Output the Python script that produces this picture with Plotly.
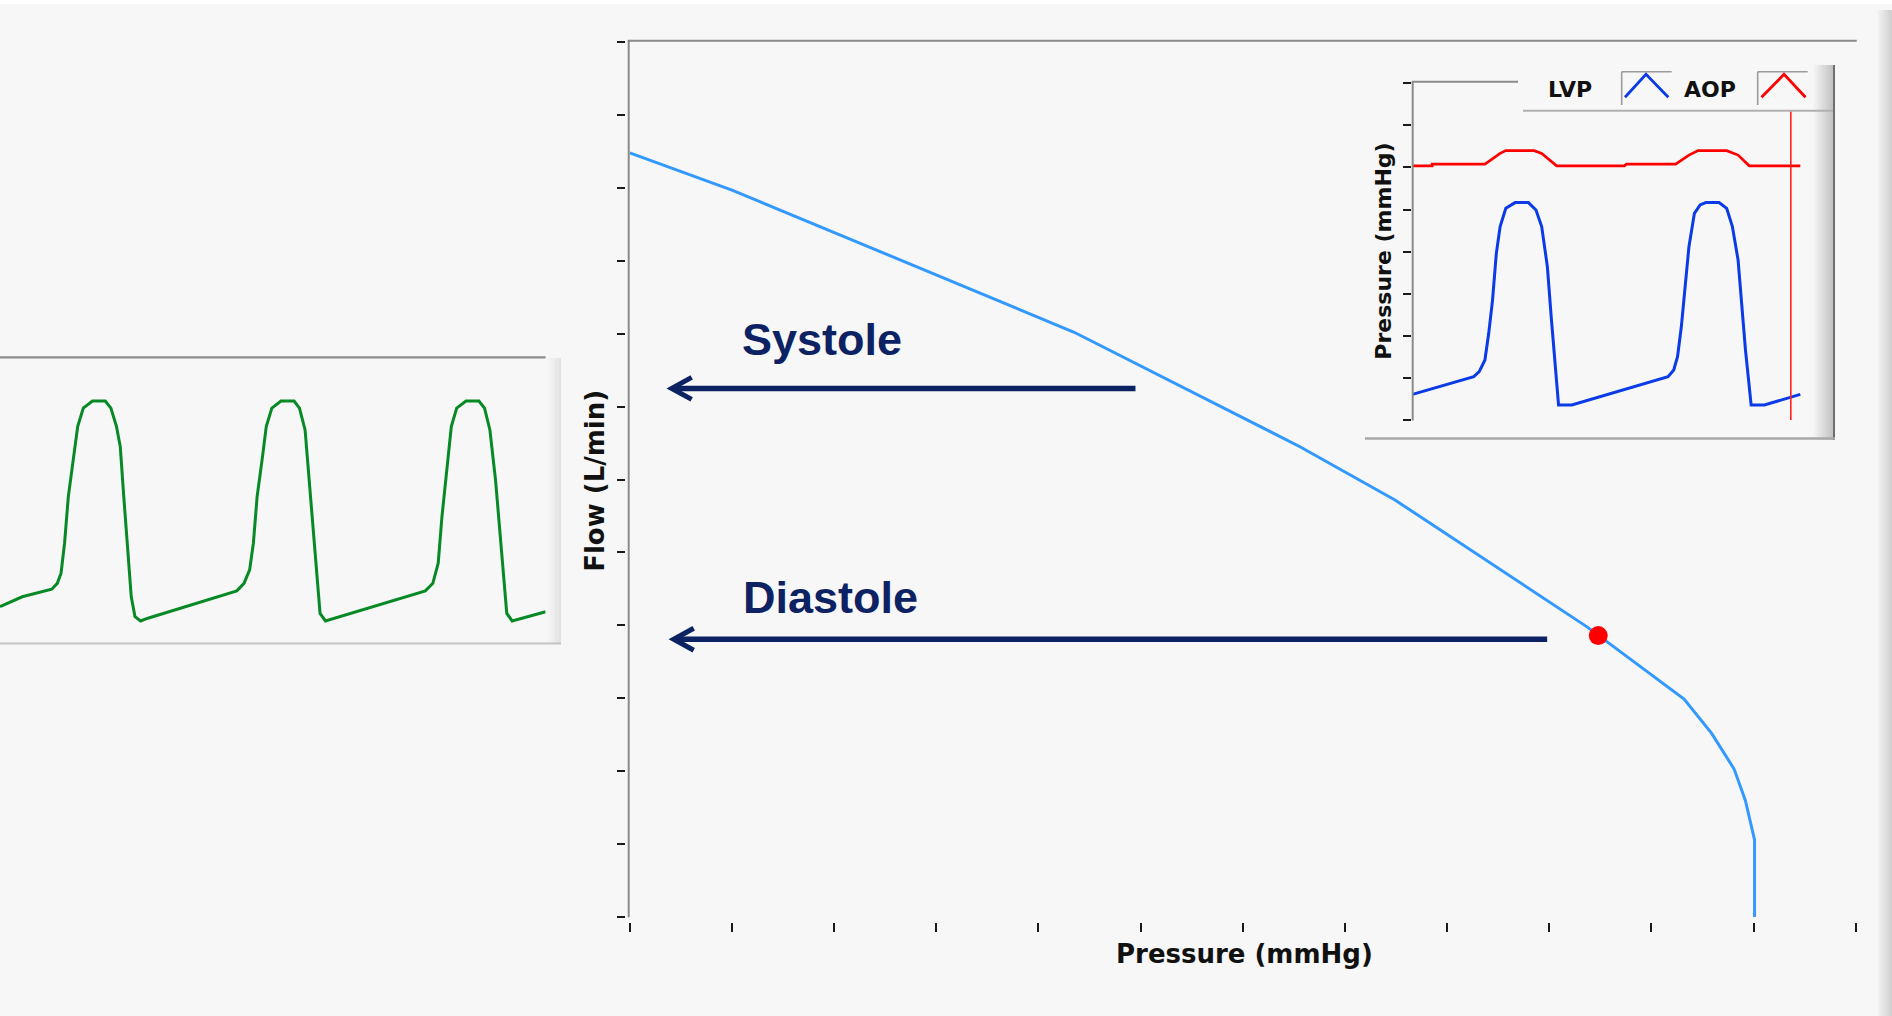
import plotly.graph_objects as go

W, H = 1892, 1016

# ---------------- data ----------------
# Main pump H-Q curve: pressure (mmHg) vs flow (L/min)
hq_pressure = [0.0, 10.0, 43.5, 65.6, 74.9, 93.7, 103.2, 105.9, 108.1, 109.2, 110.1, 110.1]
hq_flow = [10.48, 9.97, 8.02, 6.45, 5.72, 3.98, 2.99, 2.52, 2.03, 1.60, 1.06, 0.0]
op_point_pressure = [94.8]
op_point_flow = [3.86]

# Arrows (flow level, start pressure, end pressure)
systole_flow, systole_from, systole_to = 7.25, 49.5, 4.1
diastole_flow, diastole_from, diastole_to = 3.81, 89.8, 4.3

# Inset: LVP and AOP pressure waveforms (time s, mmHg)
lvp_t = [0.000, 0.258, 0.281, 0.305, 0.321, 0.337, 0.353, 0.369, 0.393, 0.432, 0.488, 0.520, 0.544,
         0.568, 0.584, 0.600, 0.615, 0.671, 1.076, 1.100, 1.116, 1.132, 1.148, 1.164, 1.187, 1.211,
         1.235, 1.291, 1.323, 1.347, 1.371, 1.386, 1.402, 1.426, 1.482, 1.633]
lvp_p = [12.2, 20.6, 23.0, 28.5, 41.2, 57.0, 79.2, 91.9, 100.6, 103.3, 103.3, 99.8, 91.9,
         72.8, 49.1, 25.3, 7.1, 7.1, 20.6, 23.8, 30.1, 44.3, 61.8, 82.3, 98.2, 102.2,
         103.3, 103.3, 100.6, 91.9, 76.0, 57.0, 33.3, 7.1, 7.1, 12.2]
aop_t = [0.000, 0.083, 0.083, 0.305, 0.369, 0.393, 0.512, 0.544, 0.607, 0.893, 0.901, 1.108,
         1.164, 1.203, 1.323, 1.371, 1.418, 1.633]
aop_p = [120.8, 120.8, 121.6, 121.6, 126.7, 128.0, 128.0, 126.7, 120.8, 120.8, 121.6, 121.6,
         125.9, 128.0, 128.0, 125.9, 120.8, 120.8]
cursor_t = 1.593
cursor_top = 147.0
inset_ticks = [0, 20, 40, 60, 80, 100, 120, 140, 160]

# Left panel: green pressure waveform (time s, mmHg)
green_t = [0.000, 0.095, 0.221, 0.245, 0.261, 0.276, 0.292, 0.316, 0.332, 0.356, 0.395, 0.450,
           0.474, 0.498, 0.514, 0.529, 0.545, 0.561, 0.577, 0.601, 0.632, 1.012, 1.043, 1.067,
           1.083, 1.099, 1.122, 1.138, 1.162, 1.201, 1.257, 1.280, 1.304, 1.328, 1.352, 1.368,
           1.391, 1.423, 1.818, 1.850, 1.873, 1.889, 1.913, 1.929, 1.952, 1.992, 2.047, 2.071,
           2.094, 2.118, 2.142, 2.166, 2.189, 2.213, 2.332]
green_p = [17.3, 22.0, 25.6, 28.4, 33.2, 47.5, 69.7, 88.7, 103.0, 111.8, 115.2, 115.2,
           111.8, 103.0, 93.5, 69.7, 45.9, 22.0, 12.5, 10.5, 11.8, 24.8, 28.4, 34.8,
           47.5, 69.7, 88.7, 103.0, 111.8, 115.2, 115.2, 111.8, 101.4, 69.7, 38.0, 14.1,
           10.5, 11.6, 24.8, 28.4, 38.0, 60.1, 85.6, 103.0, 111.8, 115.2, 115.2, 111.8,
           101.4, 77.6, 45.9, 14.1, 10.5, 11.3, 14.9]

main_xticks = list(range(0, 121, 10))
main_yticks = list(range(0, 13, 1))

# ---------------- helpers (pixel -> paper) ----------------
def px(x):
    return x / W

def py(y):
    return (H - y) / H

BG = "#f7f7f7"
NAVY = "#0d2263"
TICK = "#1a1a1a"
FRAME = "#8a8a8a"

fig = go.Figure()

# main curve
fig.add_trace(go.Scatter(x=hq_pressure, y=hq_flow, mode="lines",
                         line=dict(color="#3399ff", width=3), xaxis="x", yaxis="y",
                         hoverinfo="skip", showlegend=False))
fig.add_trace(go.Scatter(x=op_point_pressure, y=op_point_flow, mode="markers",
                         marker=dict(color="#ff0000", size=19), xaxis="x", yaxis="y",
                         hoverinfo="skip", showlegend=False))

# inset
fig.add_trace(go.Scatter(x=aop_t, y=aop_p, mode="lines", line=dict(color="#ff0000", width=2.7),
                         xaxis="x2", yaxis="y2", hoverinfo="skip", showlegend=False))
fig.add_trace(go.Scatter(x=lvp_t, y=lvp_p, mode="lines", line=dict(color="#0a3be6", width=3),
                         xaxis="x2", yaxis="y2", hoverinfo="skip", showlegend=False))
fig.add_trace(go.Scatter(x=[cursor_t, cursor_t], y=[0, cursor_top], mode="lines",
                         line=dict(color="#ff2020", width=1.6), xaxis="x2", yaxis="y2",
                         hoverinfo="skip", showlegend=False))

# green panel
fig.add_trace(go.Scatter(x=green_t, y=green_p, mode="lines", line=dict(color="#078a26", width=3),
                         xaxis="x3", yaxis="y3", hoverinfo="skip", showlegend=False))

shapes = []

def line(x0, y0, x1, y1, color, width):
    shapes.append(dict(type="line", xref="paper", yref="paper", x0=px(x0), y0=py(y0),
                       x1=px(x1), y1=py(y1), line=dict(color=color, width=width), layer="above"))

def rect(x0, y0, x1, y1, color):
    shapes.append(dict(type="rect", xref="paper", yref="paper", x0=px(x0), y0=py(y0),
                       x1=px(x1), y1=py(y1), fillcolor=color, line=dict(width=0), layer="below"))

def gradient(x0, x1, y0, y1, c0, c1, steps):
    for i in range(steps):
        t = i / max(steps - 1, 1)
        v = int(round(c0 + (c1 - c0) * t))
        col = "rgb(%d,%d,%d)" % (v, v, v)
        xa = x0 + (x1 - x0) * i / steps
        xb = x0 + (x1 - x0) * (i + 1) / steps
        rect(xa, y0, xb, y1, col)

# page chrome
rect(0, 0, W, 4, "#ffffff")
gradient(1878, W, 10, H, 240, 208, 7)

# main frame
line(628.7, 40.7, 628.7, 917.3, FRAME, 2)
line(627.7, 40.7, 1856.7, 40.7, FRAME, 2)

# green panel frame
gradient(546, 561, 358, 644, 246, 226, 6)
line(0, 357.3, 545.6, 357.3, "#8e8e8e", 2.2)
line(0, 643.5, 561, 643.5, "#c4c4c4", 2.2)

# inset panel frame
gradient(1813, 1833, 65, 440, 244, 196, 10)
line(1834, 65, 1834, 440, "#6e6e6e", 2)
line(1365, 438.5, 1835, 438.5, "#a8a8a8", 2.4)
line(1412.7, 81.7, 1412.7, 420.5, FRAME, 2)
line(1411.7, 81.7, 1518, 81.7, FRAME, 2)
line(1523, 110.7, 1833, 110.7, "#b0b0b0", 2)

# legend icon boxes
for bx in (1621.7, 1757.7):
    line(bx, 71.7, bx, 105, "#9a9a9a", 1.6)
    line(bx, 71.7, bx + 50, 71.7, "#9a9a9a", 1.6)

def chevron(x0, xm, x1, ytop, ybot, color):
    shapes.append(dict(type="path", xref="paper", yref="paper",
                       path="M %f,%f L %f,%f L %f,%f" % (px(x0), py(ybot), px(xm), py(ytop), px(x1), py(ybot)),
                       line=dict(color=color, width=2.8), layer="above"))

chevron(1625, 1646, 1668.3, 74.3, 97.3, "#0a3be6")
chevron(1761.5, 1784, 1805.5, 74.3, 97.3, "#ff0000")

# arrows in main data coordinates
ax_units = 10.216  # px per mmHg on main axis
ay_units = 73.0    # px per L/min on main axis
for fl, x_from, x_to in ((systole_flow, systole_from, systole_to),
                         (diastole_flow, diastole_from, diastole_to)):
    shapes.append(dict(type="line", xref="x", yref="y", x0=x_from, y0=fl, x1=x_to + 0.15, y1=fl,
                       line=dict(color=NAVY, width=5.5), layer="above"))
    dx = 20 / ax_units
    dy = 11 / ay_units
    shapes.append(dict(type="path", xref="x", yref="y",
                       path="M %f,%f L %f,%f L %f,%f" % (x_to + dx, fl + dy, x_to, fl, x_to + dx, fl - dy),
                       line=dict(color=NAVY, width=5), layer="above"))

annotations = []

def text(t, x, y, size, color, family, xanchor="center", angle=0):
    annotations.append(dict(text=t, x=px(x), y=py(y), xref="paper", yref="paper",
                            xanchor=xanchor, yanchor="middle", showarrow=False, textangle=angle,
                            borderpad=0, font=dict(size=size, color=color, family=family)))

text("<b>Systole</b>", 740.6, 355 - 0.35 * 45, 45, NAVY, "Liberation Sans, Arial", "left")
text("<b>Diastole</b>", 742, 613.3 - 0.35 * 45, 45, NAVY, "Liberation Sans, Arial", "left")
text("<b>Pressure (mmHg)</b>", 1244.5, 962.7 - 0.35 * 26, 26, "#111111", "DejaVu Sans")
text("<b>Flow (L/min)</b>", 595, 480.8, 26, "#111111", "DejaVu Sans", angle=-90)
text("<b>Pressure (mmHg)</b>", 1384, 251.7, 22, "#111111", "DejaVu Sans", angle=-90)
text("<b>LVP</b>", 1546.7, 97.7 - 0.35 * 22, 22, "#111111", "DejaVu Sans", "left")
text("<b>AOP</b>", 1683, 97.7 - 0.35 * 22, 22, "#111111", "DejaVu Sans", "left")

hidden = dict(visible=False, showgrid=False, zeroline=False, fixedrange=True)

fig.update_layout(
    width=W, height=H, margin=dict(l=0, r=0, t=0, b=0, pad=0),
    paper_bgcolor=BG, plot_bgcolor="rgba(0,0,0,0)", showlegend=False, hovermode=False,
    xaxis=dict(domain=[px(629.8), px(1855.7)], range=[0, 120], anchor="free", position=py(921.5),
               tickmode="array", tickvals=main_xticks, ticks="outside", ticklen=9, tickwidth=2,
               tickcolor=TICK, showticklabels=False, showgrid=False, zeroline=False, showline=False,
               fixedrange=True),
    yaxis=dict(domain=[py(917.1), py(42.0)], range=[0, 12], anchor="free", position=px(624.5),
               tickmode="array", tickvals=main_yticks, ticks="outside", ticklen=8, tickwidth=2,
               tickcolor=TICK, showticklabels=False, showgrid=False, zeroline=False, showline=False,
               fixedrange=True),
    xaxis2=dict(domain=[px(1412.5), px(1830)], range=[0, 1.758], anchor="y2", **hidden),
    yaxis2=dict(domain=[py(420), py(83.3)], range=[0, 160], anchor="free", position=px(1410.5),
                tickmode="array", tickvals=inset_ticks, ticks="outside", ticklen=8, tickwidth=2,
                tickcolor=TICK, showticklabels=False, showgrid=False, zeroline=False, showline=False,
                fixedrange=True),
    xaxis3=dict(domain=[0, px(545.6)], range=[0, 2.332], anchor="y3", **hidden),
    yaxis3=dict(domain=[py(643), py(357.3)], range=[0, 136], anchor="x3", **hidden),
    shapes=shapes, annotations=annotations,
)

fig.write_html("out.html", config=dict(displayModeBar=False, staticPlot=True))
